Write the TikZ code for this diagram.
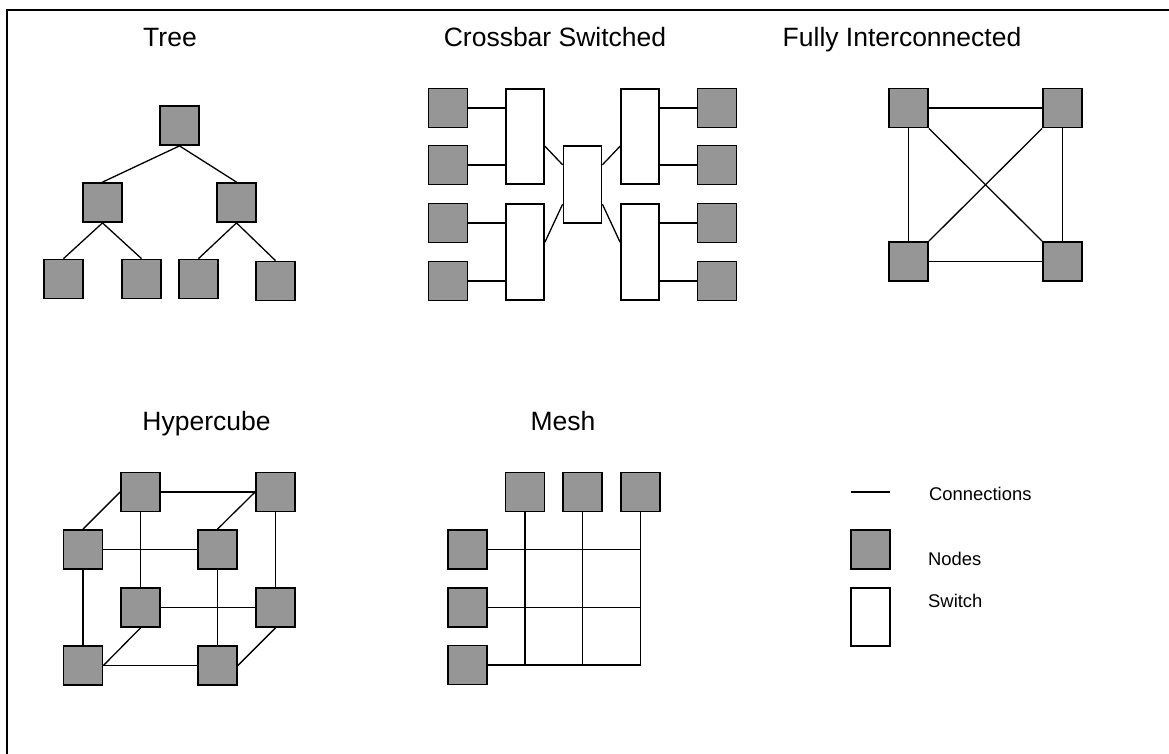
\documentclass[tikz,border=0pt]{standalone}
\usepackage{fontspec}
\setmainfont{Liberation Sans}
\usetikzlibrary{calc}
\definecolor{nodegray}{RGB}{150,150,150}
\tikzset{
  pnode/.style={draw=black, fill=nodegray, line width=1.8pt, minimum width=39pt, minimum height=39pt, inner sep=0pt},
  swbox/.style={draw=black, fill=white, line width=1.8pt, minimum width=38pt, inner sep=0pt},
  conn/.style={line width=1.3pt, black},
  ttl/.style={anchor=base, inner sep=0pt, font=\fontsize{26.5}{31}\selectfont},
  lgd/.style={anchor=base west, inner sep=0pt, font=\fontsize{18.4}{22}\selectfont}
}
\begin{document}
\begin{tikzpicture}[x=1pt,y=-1pt]
\useasboundingbox (0,0) rectangle (1169,753);
% frame (cropped)
\draw[line width=2pt] (6.5,760) -- (6.5,10) -- (1175,10);

% ---------- Tree ----------
\node[ttl] (ttree) at (170,46) {Tree};
\node[pnode] (r) at (179.5,125.5) {};
\node[pnode] (a) at (102.5,202.5) {};
\node[pnode] (b) at (236.5,202.5) {};
\node[pnode] (a1) at (63.5,279) {};
\node[pnode] (a2) at (141.5,279) {};
\node[pnode] (b1) at (198.5,279) {};
\node[pnode] (b2) at (275.5,281) {};
\draw[conn] (r.south) -- (a.north);
\draw[conn] (r.south) -- (b.north);
\draw[conn] (a.south) -- (a1.north);
\draw[conn] (a.south) -- (a2.north);
\draw[conn] (b.south) -- (b1.north);
\draw[conn] (b.south) -- (b2.north);

% ---------- Crossbar ----------
\node[ttl] (tcross) at (555,46) {Crossbar Switched};
\node[pnode] (cl1) at (448,108) {};
\node[pnode] (cl2) at (448,165) {};
\node[pnode] (cl3) at (448,223) {};
\node[pnode] (cl4) at (448,281) {};
\node[pnode] (cr1) at (717,108) {};
\node[pnode] (cr2) at (717,165) {};
\node[pnode] (cr3) at (717,223) {};
\node[pnode] (cr4) at (717,281) {};
\node[swbox, minimum height=95pt] (s1) at (525,136.5) {};
\node[swbox, minimum height=96pt] (s3) at (525,252) {};
\node[swbox, minimum height=95pt] (s2) at (640,136.5) {};
\node[swbox, minimum height=96pt] (s4) at (640,252) {};
\node[swbox, minimum height=77pt] (cs) at (582.5,184.5) {};
\draw[conn] (cl1.east) -- (cl1.east -| s1.west);
\draw[conn] (cl2.east) -- (cl2.east -| s1.west);
\draw[conn] (cl3.east) -- (cl3.east -| s3.west);
\draw[conn] (cl4.east) -- (cl4.east -| s3.west);
\draw[conn] (cr1.west) -- (cr1.west -| s2.east);
\draw[conn] (cr2.west) -- (cr2.west -| s2.east);
\draw[conn] (cr3.west) -- (cr3.west -| s4.east);
\draw[conn] (cr4.west) -- (cr4.west -| s4.east);
\draw[conn] ($(s1.north east)!0.6!(s1.south east)$) -- ($(cs.north west)!0.25!(cs.south west)$);
\draw[conn] ($(s3.north east)!0.4!(s3.south east)$) -- ($(cs.north west)!0.75!(cs.south west)$);
\draw[conn] ($(s2.north west)!0.6!(s2.south west)$) -- ($(cs.north east)!0.25!(cs.south east)$);
\draw[conn] ($(s4.north west)!0.4!(s4.south west)$) -- ($(cs.north east)!0.75!(cs.south east)$);

% ---------- Fully Interconnected ----------
\node[ttl] (tfull) at (902,46) {Fully Interconnected};
\node[pnode] (ftl) at (908.5,108) {};
\node[pnode] (ftr) at (1062.5,108) {};
\node[pnode] (fbl) at (908.5,261.5) {};
\node[pnode] (fbr) at (1062.5,261.5) {};
\draw[conn] (ftl) -- (ftr);
\draw[conn] (fbl) -- (fbr);
\draw[conn] (ftl) -- (fbl);
\draw[conn] (ftr) -- (fbr);
\draw[conn] (ftl.south east) -- (fbr.north west);
\draw[conn] (ftr.south west) -- (fbl.north east);

% ---------- Hypercube ----------
\node[ttl] (thyper) at (206.5,430) {Hypercube};
\node[pnode] (btl) at (140.5,492) {};
\node[pnode] (btr) at (275.5,492) {};
\node[pnode] (bbl) at (140.5,607.5) {};
\node[pnode] (bbr) at (275.5,607.5) {};
\node[pnode] (qtl) at (83,549.5) {};
\node[pnode] (qtr) at (217.5,549.5) {};
\node[pnode] (qbl) at (83,665.5) {};
\node[pnode] (qbr) at (217.5,665.5) {};
\draw[conn] (btl) -- (btr);
\draw[conn] (bbl) -- (bbr);
\draw[conn] (btl) -- (bbl);
\draw[conn] (btr) -- (bbr);
\draw[conn] (qtl) -- (qtr);
\draw[conn] (qbl) -- (qbr);
\draw[conn] (qtl) -- (qbl);
\draw[conn] (qtr) -- (qbr);
\draw[conn] (qtl.north) -- (btl.west);
\draw[conn] (qtr.north) -- (btr.west);
\draw[conn] (bbl.south) -- (qbl.east);
\draw[conn] (bbr.south) -- (qbr.east);

% ---------- Mesh ----------
\node[ttl] (tmesh) at (563,430) {Mesh};
\node[pnode] (mt1) at (525,492) {};
\node[pnode] (mt2) at (582.5,492) {};
\node[pnode] (mt3) at (640.5,492) {};
\node[pnode] (ml1) at (467.5,549.5) {};
\node[pnode] (ml2) at (467.5,607.5) {};
\node[pnode] (ml3) at (467.5,665) {};
\draw[conn] (mt1.south) -- (mt1.south |- ml3.east);
\draw[conn] (mt2.south) -- (mt2.south |- ml3.east);
\draw[conn] (mt3.south) -- (mt3.south |- ml3.east);
\draw[conn] (ml1.east) -- (ml1.east -| mt3.south);
\draw[conn] (ml2.east) -- (ml2.east -| mt3.south);
\draw[conn] (ml3.east) -- (ml3.east -| mt3.south);

% ---------- Legend ----------
\coordinate (lc1) at (851,492);
\coordinate (lc2) at (890,492);
\draw[conn] (lc1) -- (lc2);
\node[lgd] (lconn) at (929,500.5) {Connections};
\node[pnode] (lnode) at (870.5,549.5) {};
\node[lgd] (lnodes) at (928,565) {Nodes};
\node[swbox, minimum width=39pt, minimum height=58pt] (lsw) at (870.5,617) {};
\node[lgd] (lswitch) at (928,607.5) {Switch};
\end{tikzpicture}
\end{document}
